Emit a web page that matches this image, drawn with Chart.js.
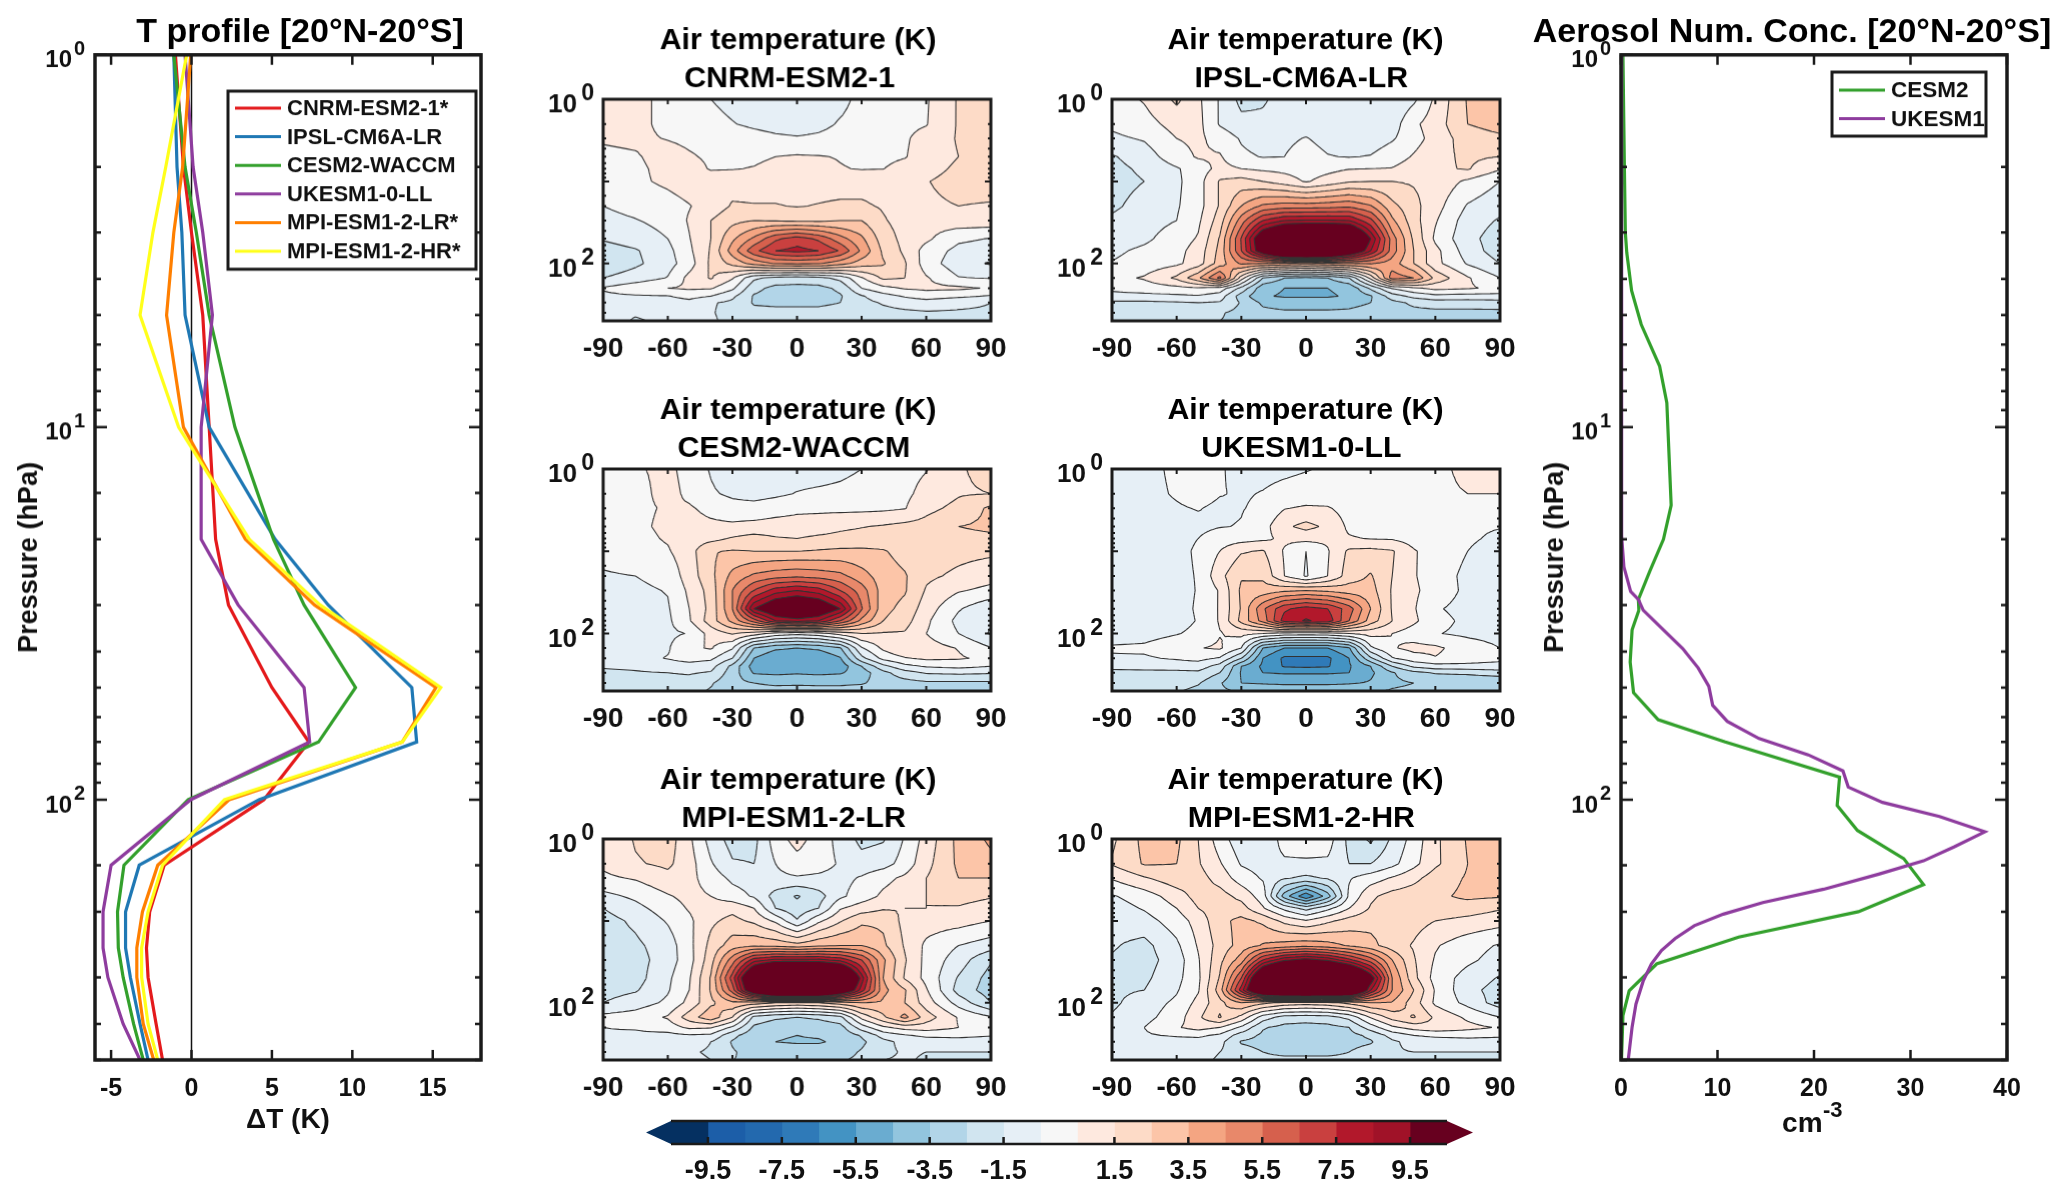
<!DOCTYPE html>
<html>
<head>
<meta charset="utf-8">
<script src="https://cdn.jsdelivr.net/npm/chart.js@4"></script>
<style>
  html, body { margin: 0; padding: 0; background: #fff; width: 2067px; height: 1195px; overflow: hidden; }
  canvas { position: absolute; }
</style>
</head>
<body>
<script>
// T profile, 20N-20S mean
const T_PLEV = [1, 2, 3, 5, 10, 20, 30, 50, 70, 100, 150, 200, 250, 300, 400, 500];
const T_CNRM = [-1.0, -0.5, 0.0, 0.7, 1.1, 1.5, 2.3, 5.0, 7.3, 4.5, -1.7, -2.6, -2.8, -2.7, -2.2, -1.8];
const T_IPSL = [-1.1, -0.9, -0.6, -0.4, 1.1, 5.2, 8.5, 13.7, 14.0, 4.2, -3.25, -4.1, -4.1, -3.8, -3.2, -2.7];
const T_CESM = [-1.1, -0.4, 0.3, 1.1, 2.7, 5.1, 7.0, 10.2, 7.9, -0.2, -4.2, -4.6, -4.55, -4.25, -3.6, -3.0];
const T_UKESM = [-0.4, 0.1, 0.7, 1.3, 0.6, 0.6, 2.9, 7.0, 7.35, -0.05, -5.0, -5.5, -5.5, -5.2, -4.25, -3.2];
const T_MPILR = [-0.05, -0.55, -1.1, -1.55, -0.5, 3.35, 7.65, 15.2, 13.1, 2.35, -2.1, -3.05, -3.4, -3.4, -3.0, -2.35];
const T_MPIHR = [-0.3, -1.6, -2.4, -3.2, -0.8, 3.6, 8.0, 15.5, 13.1, 2.05, -1.8, -2.7, -3.1, -3.1, -2.7, -2.1];
const T_NAMES = ['CNRM-ESM2-1*', 'IPSL-CM6A-LR', 'CESM2-WACCM', 'UKESM1-0-LL', 'MPI-ESM1-2-LR*', 'MPI-ESM1-2-HR*'];
const T_COLORS = ['#e41a1c', '#1f78b4', '#33a02c', '#8e3c9e', '#ff7f00', '#ffff1a'];

// aerosol number concentration
const PLEV_CESM2 = [1, 2, 3, 3.4, 4.3, 5.3, 6.85, 8.6, 16.2, 20, 24.3, 29, 31, 35, 42.7, 51.6, 61, 70, 87, 103.6, 121, 144, 169, 200, 234, 276, 326, 380, 500];
const NUM_CESM2 = [0.2, 0.35, 0.45, 0.6, 1.1, 2.1, 4.0, 4.75, 5.2, 4.4, 3.0, 1.8, 1.85, 1.15, 0.95, 1.3, 3.85, 10.8, 22.65, 22.4, 24.5, 29.3, 31.35, 24.6, 12.2, 3.7, 0.85, 0.2, 0.05];
const PLEV_UKESM1 = [1, 10, 19.6, 23.7, 27.6, 29, 31, 35, 39.3, 44.3, 49.6, 55.8, 61.6, 68.5, 75.8, 83.7, 92.5, 101.7, 111, 122, 134, 146, 158.5, 174, 189, 203, 218, 236, 254, 276, 307, 354, 408, 500];
const NUM_UKESM1 = [0.03, 0.03, 0.1, 0.3, 1.0, 1.8, 2.3, 4.4, 6.4, 8.0, 9.1, 9.5, 11, 14.3, 19.4, 23, 23.55, 27.1, 33, 37.7, 34.5, 31.35, 26.7, 21, 14.7, 10.6, 7.6, 5.6, 4.2, 3.15, 2.3, 1.55, 1.15, 0.75];

// zonal mean grids, one row per pressure level, one value per latitude
const LATS = [-90, -75, -60, -50, -40, -30, -20, -10, 0, 10, 20, 30, 40, 50, 60, 75, 90];
const PLEV = [1, 2, 3, 5, 7, 10, 20, 30, 50, 70, 100, 150, 200, 250, 300, 400, 500];
const F_CNRM = [
  [1.0,0.8,0.2,0,-0.5,-0.8,-1.0,-1.1,-1.1,-1.1,-0.8,-0.2,0,0.2,0.4,1.6,1.9],
  [1.0,0.8,0.2,0,-0.2,-0.45,-0.7,-0.9,-1.0,-0.8,-0.4,-0.1,0.1,0.3,0.45,1.6,1.9],
  [0.6,0.7,0.45,0.3,0.2,0.1,-0.1,-0.3,-0.4,-0.3,-0.1,0.1,0.2,0.4,0.8,1.6,1.9],
  [0.3,0.4,0.9,0.6,0.35,0.3,0.3,0.5,0.6,0.55,0.45,0.3,0.3,0.45,0.9,1.5,2.0],
  [0.2,0.3,0.8,0.9,0.42,0.45,0.55,0.8,0.9,0.8,0.55,0.45,0.48,0.8,1.1,1.7,1.9],
  [0.2,0.3,0.7,1.0,1.0,1.1,1.1,1.1,1.1,1.1,1.1,1.1,1.1,1.2,1.45,1.9,2.0],
  [-0.5,-0.2,0.1,0.45,0.9,1.6,1.55,1.55,1.45,1.55,1.65,1.65,1.4,1.1,1.3,1.5,1.4],
  [-0.8,-0.55,-0.2,0.6,1.5,2.2,2.5,2.4,2.3,2.3,2.5,2.5,1.6,1.1,0.9,1.1,1.1],
  [-1.4,-1.0,-0.5,0.45,1.5,3.3,4.7,6.3,7,6.3,4.9,3.7,2.0,1.2,0.7,-0.3,-0.55],
  [-2.0,-1.6,-0.8,0.3,1.6,4.0,6.2,7.5,7.8,7.5,6.4,4.3,2.3,1.3,0.1,-0.8,-1.0],
  [-2.3,-1.7,-0.9,0.05,1.7,2.8,3.9,4.6,4.7,4.6,3.9,3.0,2.6,1.6,0,-1.1,-1.6],
  [-1.5,-1.0,-0.45,0.8,1.6,0.6,-1.3,-1.8,-2,-1.8,-1.2,0.4,1.7,1.5,0.6,-0.45,-0.55],
  [-0.4,0.1,0.5,0.65,0.6,-0.3,-2.2,-2.8,-2.8,-2.8,-2.3,-0.5,0.2,0.6,0.7,0.7,0.4],
  [-0.7,-0.6,-0.55,-0.2,-0.5,-1.3,-2.6,-2.9,-2.9,-2.9,-2.6,-1.6,-0.9,-0.4,0,-0.3,-0.6],
  [-1.0,-0.9,-0.9,-0.8,-1.4,-1.7,-2.6,-2.7,-2.7,-2.7,-2.5,-1.8,-1.4,-1.1,-1.0,-1.3,-1.5],
  [-1.2,-1.4,-1.2,-1.0,-1.4,-1.9,-2.2,-2.2,-2.2,-2.2,-2.1,-1.9,-1.8,-1.7,-1.6,-1.6,-1.6],
  [-1.0,-1.6,-1.3,-1.0,-1.3,-1.9,-1.9,-1.9,-1.9,-1.9,-1.8,-1.8,-1.7,-1.7,-1.6,-1.6,-1.6]
];
const F_IPSL = [
  [0.0,0.6,1.7,0.7,-0.6,-1.8,-1.6,-1.2,-1.0,-1.1,-1.2,-1.3,-1.4,-0.7,0.7,2.6,2.9],
  [-0.3,0.1,0.9,0.8,-0.6,-1.2,-1.3,-1.1,-0.9,-0.9,-1.0,-1.1,-1.0,0.3,1.0,2.5,2.9],
  [-0.7,-0.4,0.5,0.7,0.1,-0.6,-1.0,-0.7,-0.45,-0.8,-1.1,-1.0,-0.6,0.1,0.9,2.0,2.3],
  [-1.6,-1.0,0.1,0.6,0.6,-0.3,-0.55,-0.5,-0.1,-0.45,-0.55,-0.45,0.0,0.6,1.2,1.7,1.5],
  [-1.8,-1.3,-0.6,0.0,0.8,0.5,0.3,0.2,0.0,0.2,0.45,0.5,0.55,1.0,1.3,1.6,0.6],
  [-1.9,-1.5,-0.7,0.1,1.6,1.9,1.5,1.0,0.4,0.9,1.4,1.5,1.5,1.4,1.2,0.3,-0.5],
  [-1.7,-1.1,-0.6,0.1,1.6,3.5,4.7,5.0,5.0,5.1,5.3,4.6,2.8,1.8,0.9,-0.6,-1.2],
  [-1.3,-0.9,-0.5,0.3,2.0,5.0,7.5,8.5,8.6,8.6,8.5,6.8,3.7,1.9,0.6,-1.0,-1.6],
  [-1.0,-0.7,0.0,0.6,2.6,6.6,11.5,14,15,15,14,9.5,5,2.3,0.3,-1.2,-2.0],
  [-0.7,-0.3,0.2,0.9,2.8,6.5,11,15,16,15,12,8.5,5,2.5,0.8,-1.0,-2.0],
  [-0.45,-0.1,0.3,1,3,4.7,4.5,4.3,4,4.3,4.5,4.6,4,2.5,0.8,-0.6,-1.5],
  [0.2,0.6,1.7,3.3,5.8,1,-2.5,-3.5,-3.7,-3.5,-2.5,0.8,5.0,4.5,2.2,0.6,-0.5],
  [-0.3,0.0,0.2,0.4,0.1,-1.8,-4.2,-4.5,-4.5,-4.5,-4.3,-2.3,-0.4,0.3,0.8,0.6,0.3],
  [-0.8,-0.8,-0.7,-0.6,-1.0,-3,-4.4,-4.6,-4.6,-4.6,-4.4,-3.6,-2.0,-1.2,-0.8,-0.9,-0.9],
  [-1.7,-1.7,-1.6,-1.5,-1.6,-2.6,-3.7,-4,-4,-4,-3.8,-3.5,-2.8,-2.3,-2.0,-2.0,-1.9],
  [-2.0,-2.0,-1.9,-2.0,-2.4,-2.8,-3.2,-3.3,-3.3,-3.3,-3.3,-3.1,-2.9,-2.8,-2.8,-2.8,-2.8],
  [-2.0,-2.0,-2.0,-2.2,-2.5,-2.7,-2.7,-2.8,-2.8,-2.8,-2.8,-2.7,-2.7,-2.7,-2.7,-2.7,-2.7]
];
const F_CESM = [
  [0.1,0.4,0.7,0.2,-0.6,-1.4,-1.3,-1.0,-1.0,-1.0,-0.8,-0.5,0,0.2,0.45,1.4,1.8],
  [0.1,0.2,0.8,0.3,-0.35,-0.7,-0.9,-0.7,-0.45,-0.3,-0.2,0,0.1,0.3,0.8,1.4,1.5],
  [0.15,0.3,0.6,0.6,0.25,-0.1,-0.1,0.1,0.3,0.3,0.25,0.25,0.3,0.45,1.2,1.8,2.7],
  [0.1,0.3,0.7,0.8,0.7,0.7,0.8,0.9,0.9,1.0,1.3,1.45,1.6,1.8,1.9,2.5,2.7],
  [0.0,0.2,0.6,1.0,1.2,1.6,1.9,1.6,1.5,1.7,1.8,1.9,1.9,1.9,2.0,2.2,2.3],
  [-0.2,0.1,0.4,1.1,2.4,2.6,2.5,2.5,2.5,2.6,2.7,2.7,2.6,2.1,2.0,1.8,1.7],
  [-0.6,-0.5,-0.2,1.0,2.2,3.8,4.7,5.1,5.3,5.1,4.8,3.9,3.0,2.6,1.7,1.3,0.9],
  [-0.8,-0.7,-0.45,0.7,1.9,4.5,6.5,8,8.5,8,6.5,5,3.0,2.6,1.4,0.6,0.2],
  [-1,-0.9,-0.6,0.5,1.8,4.5,9.5,11.3,12,11.3,9.5,5.6,2.8,2.2,1.0,-0.4,-1.3],
  [-1,-0.9,-0.7,0.4,2.0,3.8,6,8.5,9,8.5,6.5,4.2,2.5,1.9,0.7,-0.8,-1.4],
  [-0.9,-0.8,-0.7,-0.45,0.9,1.6,1,0.1,-0.2,0.1,0.9,1.5,1.4,1.4,0.5,-0.5,-1.6],
  [-1.0,-0.8,-0.6,0.3,0.6,-0.4,-3.5,-4.3,-4.5,-4.3,-3.6,-0.6,0.7,1.5,0.9,0.45,-0.45],
  [-1.0,-0.8,-0.45,-0.1,-0.3,-1.5,-4.5,-5.4,-5.5,-5.4,-4.6,-1.8,-0.2,0.4,0.7,0.6,0.3],
  [-1.4,-1.3,-1.0,-0.9,-1.1,-2.8,-5.0,-5.5,-5.5,-5.5,-5.1,-3.5,-1.8,-0.8,-0.4,-0.2,-0.5],
  [-1.7,-1.6,-1.5,-1.4,-1.6,-3,-4.6,-4.7,-4.6,-4.7,-4.6,-4,-2.8,-1.9,-1.4,-1.3,-1.4],
  [-2.0,-2.0,-1.9,-1.9,-2.4,-3.2,-3.5,-3.7,-3.7,-3.7,-3.7,-3.6,-3.1,-2.9,-2.7,-2.7,-2.7],
  [-2.1,-2.1,-2.1,-2.2,-2.6,-2.9,-3.1,-3.1,-3.0,-3.1,-3.1,-3.0,-2.9,-2.9,-2.8,-2.8,-2.8]
];
const F_UKESM = [
  [-1.0,-0.8,-0.3,-0.2,-0.4,-0.8,-0.8,-0.7,-0.55,-0.4,-0.2,-0.1,0,0.1,0.3,0.7,0.8],
  [-1,-0.8,-0.4,-0.1,-0.45,-0.6,-0.45,-0.2,-0.1,-0.1,0.0,0.05,0.1,0.2,0.35,0.5,0.5],
  [-0.9,-0.8,-0.6,-0.45,-0.7,-0.55,-0.3,0.45,0.65,0.6,0.1,0.0,0,0,0,0,-0.1],
  [-0.9,-1.2,-0.8,-0.75,-0.55,-0.45,0.1,1.3,1.8,1.3,0.3,-0.05,-0.05,0,-0.1,-0.35,-0.45],
  [-0.9,-0.9,-0.7,-0.5,0.0,0.1,0.3,0.7,0.8,0.7,0.6,0.45,0.4,0.1,-0.2,-0.35,-0.7],
  [-0.9,-0.9,-0.7,-0.4,0.5,1.4,1.6,0.4,-0.5,0.4,1.7,1.8,1.6,0.6,0,-0.5,-1.0],
  [-1,-1,-0.7,-0.45,1.2,2.4,2.3,0.5,-0.6,0.5,2.0,2.6,1.5,0.6,-0.1,-0.7,-1.0],
  [-1,-1,-0.8,-0.45,0.6,2.7,2.9,3.3,3.5,3.3,3.0,2.9,1.4,0.7,0,-0.7,-1.0],
  [-1,-1,-0.8,-0.4,0.6,2.6,5.3,7.3,8,7.5,6,3.5,1.4,0.6,-0.4,-0.8,-0.95],
  [-1,-1,-0.8,-0.45,0.6,2.8,4.9,8,8.6,8.2,5.5,3,1.5,0.7,-0.2,-0.7,-0.9],
  [-0.9,-0.8,-0.55,-0.3,0.45,0.8,0.5,0.1,0.0,0.1,0.5,0.8,0.5,0.0,-0.45,-0.7,-0.85],
  [-0.4,-0.35,0.0,0.45,0.65,-0.5,-4.5,-5.5,-5.5,-5.5,-4.6,-0.7,0.4,0.8,0.7,0.0,-0.5],
  [-0.6,-0.6,-0.4,-0.2,-0.6,-2.5,-5.5,-6.7,-6.7,-6.7,-5.5,-2.7,-0.6,0.1,0.45,0.0,-0.3],
  [-1.2,-1.1,-1,-1,-1.9,-4.5,-5.7,-6.6,-6.7,-6.6,-5.6,-4.5,-2.5,-1.3,-0.9,-0.8,-0.8],
  [-1.8,-1.8,-1.8,-1.7,-2.5,-4.6,-5.5,-5.6,-5.6,-5.6,-5.5,-4.7,-3.6,-2.8,-2.4,-2.3,-2.0],
  [-2.0,-2.0,-2.0,-2.4,-3.4,-4.5,-4.6,-4.7,-4.7,-4.7,-4.6,-4.4,-3.7,-3.5,-3.4,-3.4,-3.4],
  [-2.2,-2.2,-2.4,-2.8,-3.3,-3.6,-3.7,-3.7,-3.7,-3.7,-3.7,-3.6,-3.4,-3.3,-3.3,-3.2,-3.2]
];
const F_MPILR = [
  [0.6,1.6,2.0,0.7,-0.9,-1.9,-1.8,0.0,0.9,0.0,-0.8,-1.8,-1.6,-0.4,0.9,2.8,3.7],
  [0.7,1.4,1.7,0.9,-0.4,-1.4,-1.5,-0.5,0.1,-0.1,-0.6,-1.1,-0.9,-0.1,1.2,2.7,3.2],
  [0.3,0.6,1.2,0.8,0.0,-0.7,-0.9,-0.7,-0.6,-0.7,-0.8,-0.4,0.2,0.7,1.5,2.5,2.5],
  [-0.8,-0.3,0.4,0.8,0.5,-0.1,-0.6,-1.9,-2.6,-1.9,-0.7,0.0,0.7,1.1,1.5,1.9,1.6],
  [-1.5,-0.8,0.0,0.6,1.0,1.2,0.5,-1.5,-2.2,-1.5,0.4,1.0,1.4,1.5,1.5,1.4,1.0],
  [-1.9,-1.3,-0.4,0.3,1.3,1.8,1.3,0.3,-1.4,0.3,1.4,2.3,2.3,1.2,1.0,0.9,0.5],
  [-2.0,-1.7,-1,0.2,1.8,3.0,3.3,3.2,2.9,3.3,3.5,3.5,2.7,1.4,0.3,-0.5,-1.0],
  [-2.0,-1.9,-1.0,0.1,2.1,5.0,8,8.8,8.8,8.8,8.2,6.5,3.7,1.6,0.2,-1.0,-2.4],
  [-2,-1.9,-0.7,0.4,2.6,7,13,17,18,17,15,9,3.5,1.4,0.2,-1.6,-2.9],
  [-1.9,-1.6,-0.6,0.5,2.6,6,12,16,16.5,16,12.5,8,3.8,2.6,0.6,-1.9,-3],
  [-1.5,-1,-0.3,0.8,2.3,3.3,3,2.5,2.3,2.5,3,3.5,3.3,2.5,1,-0.9,-2.5],
  [-0.2,-0.0,0.6,2.0,3.2,1.5,-1.8,-2.3,-2.5,-2.3,-1.8,0.8,2.3,3.8,2.0,0.4,-0.4],
  [-0.5,-0.4,0.0,0.7,0.6,-0.7,-2.7,-3.2,-3.3,-3.2,-2.9,-1.0,0.3,0.9,1.0,0.5,0.2],
  [-0.6,-0.7,-0.8,-0.6,-0.7,-2.2,-3.2,-3.4,-3.5,-3.4,-3.2,-2.4,-1.1,-0.6,-0.3,-0.2,-0.4],
  [-0.9,-0.9,-1,-1.1,-1.5,-2.6,-3.3,-3.5,-3.6,-3.6,-3.3,-2.7,-1.8,-1.2,-1.0,-1.0,-1.2],
  [-1.2,-1.4,-1.3,-1.4,-1.6,-2.4,-2.9,-3,-3,-3,-2.9,-2.4,-1.7,-1.4,-1.5,-1.5,-1.5],
  [-1.2,-1.5,-1.3,-1.3,-1.5,-2.5,-2.6,-2.6,-2.6,-2.6,-2.6,-2.3,-1.5,-1.4,-1.6,-1.6,-1.6]
];
const F_MPIHR = [
  [1.3,2.8,2.7,1.5,0.0,-1.2,-1.5,0.0,0.2,0,-1.8,-2.7,-1.3,-0.1,1.3,2.6,3.0],
  [1.6,2.6,2.5,1.6,0.6,-0.6,-0.9,-0.7,-0.7,-0.7,-1.5,-1.5,-0.8,0.2,1.3,2.5,2.9],
  [0.6,1.4,2.1,1.9,1.1,0,-0.6,-1.4,-1.7,-1.4,-0.6,0,0.6,1.2,2,2.6,2.8],
  [-0.6,0.0,1.0,1.9,1.9,1.2,0.0,-4,-6.3,-4,-0.3,1.3,1.9,2.1,2.3,2.7,2.6],
  [-1,-0.4,0.5,1.5,2.0,1.9,0.6,-0.8,-1.9,-0.8,0.5,1.6,2.2,2.2,2.2,2.0,1.6],
  [-1.1,-0.9,0,0.9,2.2,2.8,2.3,1.2,0.6,1.3,1.9,2.2,2.2,1.9,1.5,1.2,0.9],
  [-1.4,-1.8,-0.7,0.6,1.9,2.9,3.6,3.9,4.2,3.9,3.4,2.8,2.0,1.4,0.6,-0.1,-0.6],
  [-1.6,-1.9,-1.0,0.4,2.2,4,7.5,9.3,10,9.3,7.8,6,3.5,1.6,0.4,-0.3,-0.9],
  [-1.8,-1.7,-0.8,0.3,2.6,6.5,13,17,18,17.5,15,10.5,4.5,1.8,0.1,-0.9,-1.6],
  [-1.7,-1.5,-0.6,0.4,3.0,8,14,16,16.5,16,15,8.5,4.5,2.5,0.4,-1.2,-1.9],
  [-1.7,-1.0,-0.3,0.8,2.2,3.5,2.8,2.2,2,2.2,2.8,3.5,3.4,2.0,0.3,-0.8,-2],
  [-1.4,-0.8,0.0,1.3,2.6,1.2,-1,-1.9,-2,-1.9,-1.2,0.6,1.9,2.6,1.3,0.3,-0.5],
  [-0.7,-0.5,0.4,0.9,0.5,-0.7,-2.4,-2.8,-2.9,-2.8,-2.5,-1.0,0.3,0.9,1.2,0.8,0.4],
  [-0.7,-0.6,-0.4,-0.3,-0.7,-2,-2.7,-3,-3,-3,-2.8,-2.3,-1.1,-0.5,-0.3,-0.2,-0.3],
  [-0.9,-0.9,-0.9,-0.9,-1.2,-2.6,-2.8,-3,-3,-3,-2.8,-2.6,-1.7,-1.1,-1,-0.9,-1.0],
  [-1.1,-1.3,-1.2,-1.2,-1.5,-2.1,-2.5,-2.7,-2.7,-2.7,-2.5,-2.1,-1.6,-1.5,-1.5,-1.5,-1.5],
  [-1.2,-1.5,-1.3,-1.3,-1.6,-2.1,-2.3,-2.3,-2.3,-2.3,-2.3,-2.1,-1.7,-1.6,-1.6,-1.6,-1.6]
];

// colour scale
const LEVELS = [-9.5, -8.5, -7.5, -6.5, -5.5, -4.5, -3.5, -2.5, -1.5, -0.5, 0.5, 1.5, 2.5, 3.5, 4.5, 5.5, 6.5, 7.5, 8.5, 9.5];
const BAND_COLORS = ['#053061', '#1c5ea8', '#2369ae', '#2f7ab8', '#4393c3', '#6aacd0', '#92c5de', '#b2d5e8', '#d1e5f0', '#e6eff6', '#f7f7f7',
  '#fee9df', '#fddbc7', '#fcc5a8', '#f4a582', '#e8886a', '#d6604d', '#c9403f', '#b2182b', '#a01228', '#67001f'];
const BAR_TICKS = [-9.5, -7.5, -5.5, -3.5, -1.5, 1.5, 3.5, 5.5, 7.5, 9.5];
const LAT_TICKS = [-90, -60, -30, 0, 30, 60, 90];
const DT_TICKS = [-5, 0, 5, 10, 15];
const NUM_TICKS = [0, 10, 20, 30, 40];
const DECADES_PROFILE = [1, 10, 100];
const DECADES_FIELD = [1, 100];

const FONT = "'Liberation Sans', Arial, sans-serif";
const INK = '#1a1a1a';
Chart.defaults.animation = false;
Chart.defaults.font.family = FONT;
Chart.defaults.font.weight = 'bold';
Chart.defaults.color = '#111';

function addCanvas(left, top, width, height) {
  const c = document.createElement('canvas');
  c.width = width;
  c.height = height;
  c.style.left = left + 'px';
  c.style.top = top + 'px';
  c.style.width = width + 'px';
  c.style.height = height + 'px';
  document.body.appendChild(c);
  return c;
}

// title centred on a page position rather than on the chart box
const titleAt = {
  id: 'titleAt',
  afterLayout(chart, args, opts) {
    const c = opts.center - chart.canvas.offsetLeft;
    chart.titleBlock.left = c - 400;
    chart.titleBlock.right = c + 400;
  }
};

// "10" with a raised exponent at each decade of the pressure axis
const decadeLabels = {
  id: 'decadeLabels',
  afterDraw(chart, args, opts) {
    const ctx = chart.ctx, sy = chart.scales.y, left = chart.chartArea.left;
    ctx.save();
    ctx.fillStyle = '#111';
    ctx.textAlign = 'right';
    ctx.textBaseline = 'middle';
    opts.values.forEach(v => {
      const y = sy.getPixelForValue(v);
      ctx.font = 'bold ' + opts.size + 'px ' + FONT;
      ctx.fillText('10', left - opts.baseGap, y + 6);
      ctx.font = 'bold ' + opts.expSize + 'px ' + FONT;
      ctx.fillText(String(Math.log10(v)), left - opts.expGap, y - 5);
    });
    ctx.restore();
  }
};

// box and inward ticks, the way the original axes look
const boxAxes = {
  id: 'boxAxes',
  afterDatasetsDraw(chart, args, opts) {
    const ctx = chart.ctx, a = chart.chartArea;
    ctx.save();
    ctx.strokeStyle = INK;
    ctx.lineWidth = opts.tickWidth;
    ctx.beginPath();
    chart.scales.y.ticks.forEach(t => {
      const y = chart.scales.y.getPixelForValue(t.value);
      const len = Number.isInteger(Math.log10(t.value)) ? opts.major : opts.minor;
      ctx.moveTo(a.left, y); ctx.lineTo(a.left + len, y);
      ctx.moveTo(a.right, y); ctx.lineTo(a.right - len, y);
    });
    chart.scales.x.ticks.forEach(t => {
      const x = chart.scales.x.getPixelForValue(t.value);
      ctx.moveTo(x, a.top); ctx.lineTo(x, a.top + opts.xtick);
      ctx.moveTo(x, a.bottom); ctx.lineTo(x, a.bottom - opts.xtick);
    });
    ctx.stroke();
    ctx.lineWidth = opts.box;
    ctx.strokeRect(a.left, a.top, a.right - a.left, a.bottom - a.top);
    ctx.restore();
  }
};

// legend box placed inside the plot, labels come from the datasets
const boxLegend = {
  id: 'boxLegend',
  afterDraw(chart, args, opts) {
    const ctx = chart.ctx;
    const x0 = opts.x - chart.canvas.offsetLeft, y0 = opts.y - chart.canvas.offsetTop;
    ctx.save();
    ctx.fillStyle = '#fff';
    ctx.fillRect(x0, y0, opts.w, opts.h);
    ctx.strokeStyle = INK;
    ctx.lineWidth = 3;
    ctx.strokeRect(x0, y0, opts.w, opts.h);
    ctx.font = 'bold ' + opts.size + 'px ' + FONT;
    ctx.textBaseline = 'middle';
    opts.rows.forEach((idx, i) => {
      const ds = chart.data.datasets[idx];
      const y = y0 + opts.first + i * opts.step;
      ctx.strokeStyle = ds.borderColor;
      ctx.lineWidth = 3;
      ctx.beginPath();
      ctx.moveTo(x0 + 7, y); ctx.lineTo(x0 + 7 + opts.sample, y);
      ctx.stroke();
      ctx.fillStyle = '#111';
      ctx.fillText(ds.label, x0 + 7 + opts.sample + 6, y + 1);
    });
    if (opts.unitExp) {
      ctx.font = 'bold 22px ' + FONT;
      ctx.textAlign = 'left';
      ctx.fillStyle = '#111';
      ctx.fillText(opts.unitExp, chart.scales.x.getPixelForValue(20) + 9, chart.chartArea.bottom + 51);
    }
    ctx.restore();
  }
};

// filled contours + contour lines from the grid kept in dataset 0
function clipAbove(poly, level) {
  const out = [];
  for (let i = 0; i < poly.length; i++) {
    const a = poly[i], b = poly[(i + 1) % poly.length];
    const ain = a[2] >= level, bin = b[2] >= level;
    if (ain) out.push(a);
    if (ain !== bin) {
      const t = (level - a[2]) / (b[2] - a[2]);
      out.push([a[0] + t * (b[0] - a[0]), a[1] + t * (b[1] - a[1]), level]);
    }
  }
  return out;
}

const contourField = {
  id: 'contourField',
  beforeDatasetsDraw(chart) {
    const pts = chart.data.datasets[0].data;
    const sx = chart.scales.x, sy = chart.scales.y, a = chart.chartArea, ctx = chart.ctx;
    const nc = LATS.length, nr = PLEV.length, sub = 4;
    const tris = [];
    for (let r = 0; r < nr - 1; r++) {
      for (let c = 0; c < nc - 1; c++) {
        const v00 = pts[r * nc + c], v01 = pts[r * nc + c + 1], v10 = pts[(r + 1) * nc + c], v11 = pts[(r + 1) * nc + c + 1];
        const xl = sx.getPixelForValue(v00.x), xr = sx.getPixelForValue(v01.x);
        const yt = sy.getPixelForValue(v00.y), yb = sy.getPixelForValue(v10.y);
        const node = (i, j) => {
          const u = i / sub, w = j / sub;
          return [xl + u * (xr - xl), yt + w * (yb - yt),
            (1 - u) * (1 - w) * v00.v + u * (1 - w) * v01.v + (1 - u) * w * v10.v + u * w * v11.v];
        };
        for (let j = 0; j < sub; j++) {
          for (let i = 0; i < sub; i++) {
            const p = node(i, j), q = node(i + 1, j), s = node(i + 1, j + 1), t = node(i, j + 1);
            tris.push([p, q, s], [p, s, t]);
          }
        }
      }
    }
    ctx.save();
    ctx.beginPath();
    ctx.rect(a.left, a.top, a.right - a.left, a.bottom - a.top);
    ctx.clip();
    ctx.fillStyle = BAND_COLORS[0];
    ctx.fillRect(a.left, a.top, a.right - a.left, a.bottom - a.top);
    LEVELS.forEach((lev, k) => {
      ctx.fillStyle = BAND_COLORS[k + 1];
      ctx.beginPath();
      tris.forEach(tri => {
        const poly = clipAbove(tri, lev);
        if (poly.length < 3) return;
        ctx.moveTo(poly[0][0], poly[0][1]);
        for (let i = 1; i < poly.length; i++) ctx.lineTo(poly[i][0], poly[i][1]);
        ctx.closePath();
      });
      ctx.fill();
    });
    ctx.strokeStyle = '#333';
    ctx.lineWidth = 1.1;
    ctx.beginPath();
    LEVELS.forEach(lev => {
      tris.forEach(tri => {
        const hit = [];
        for (let i = 0; i < 3; i++) {
          const p = tri[i], q = tri[(i + 1) % 3];
          if ((p[2] >= lev) !== (q[2] >= lev)) {
            const t = (lev - p[2]) / (q[2] - p[2]);
            hit.push([p[0] + t * (q[0] - p[0]), p[1] + t * (q[1] - p[1])]);
          }
        }
        if (hit.length === 2) {
          ctx.moveTo(hit[0][0], hit[0][1]);
          ctx.lineTo(hit[1][0], hit[1][1]);
        }
      });
    });
    ctx.stroke();
    ctx.restore();
  }
};

function pressureAxis(width, title, titlePad) {
  return {
    type: 'logarithmic', reverse: true, min: 1, max: 500,
    grid: { display: false, drawTicks: false }, border: { display: false },
    ticks: { display: false },
    title: title ? { display: true, text: title, font: { size: 27 }, padding: { top: titlePad, bottom: 0 } } : { display: false },
    afterFit(s) { s.width = width; }
  };
}

function valueAxis(min, max, values, height, size, padding, title, titlePad) {
  return {
    type: 'linear', min: min, max: max,
    grid: { display: false, drawTicks: false }, border: { display: false },
    afterBuildTicks(s) { s.ticks = values.map(v => ({ value: v })); },
    ticks: { autoSkip: false, maxRotation: 0, padding: padding, font: { size: size } },
    title: title ? { display: true, text: title, font: { size: 28 }, padding: { top: 0, bottom: titlePad } } : { display: false },
    afterFit(s) { s.height = height; }
  };
}

// profile panels
function profileChart(p) {
  const titleH = 34 * 1.2 + 2;
  const top = p.T - titleH;
  const cv = addCanvas(p.CL, top, p.CW, p.B + p.xH - top);
  new Chart(cv, {
    type: 'scatter',
    data: { datasets: p.datasets },
    options: {
      responsive: false,
      layout: { padding: { right: p.CL + p.CW - p.R } },
      plugins: {
        legend: { display: false }, tooltip: { enabled: false },
        title: { display: true, text: p.title, font: { size: 34, lineHeight: 1.2 }, padding: { top: 0, bottom: 2 }, color: '#000' },
        titleAt: { center: p.titleX },
        decadeLabels: { values: DECADES_PROFILE, size: 24, expSize: 20, baseGap: 23, expGap: 10 },
        boxAxes: { major: 12, minor: 6, xtick: 10, box: 3.5, tickWidth: 2.5 },
        boxLegend: p.legend
      },
      scales: {
        x: valueAxis(p.xmin, p.xmax, p.xticks, p.xH, 25, 14, p.xtitle, p.xtitlePad),
        y: pressureAxis(p.L - p.CL, 'Pressure (hPa)', p.ytitlePad)
      }
    },
    plugins: [titleAt, decadeLabels, boxAxes, boxLegend]
  });
}

function xy(xs, ys) { return xs.map((x, i) => ({ x: x, y: ys[i] })); }

const tSeries = [T_CNRM, T_IPSL, T_CESM, T_UKESM, T_MPILR, T_MPIHR];
const tDatasets = tSeries.map((s, i) => ({
  label: T_NAMES[i], data: xy(s, T_PLEV), showLine: true, borderColor: T_COLORS[i], borderWidth: 3.2,
  pointRadius: 0, borderJoinStyle: 'miter', order: tSeries.length - i
}));
tDatasets.push({ label: '', data: [{ x: 0, y: 1 }, { x: 0, y: 500 }], showLine: true, borderColor: '#111', borderWidth: 1.5, pointRadius: 0, order: 99 });

profileChart({
  title: 'T profile [20\u00b0N-20\u00b0S]', titleX: 300, CL: 0, CW: 600, L: 95, R: 481, T: 55, B: 1060, xH: 90,
  xmin: -6, xmax: 18, xticks: DT_TICKS, xtitle: '\u0394T (K)', xtitlePad: 13, ytitlePad: 13,
  datasets: tDatasets,
  legend: { x: 228, y: 91, w: 248, h: 178, first: 17, step: 28.6, size: 22, sample: 46, rows: [0, 1, 2, 3, 4, 5] }
});

profileChart({
  title: 'Aerosol Num. Conc. [20\u00b0N-20\u00b0S]', titleX: 1792, CL: 1517, CW: 550, L: 1621, R: 2007, T: 55, B: 1060, xH: 90,
  xmin: 0, xmax: 40, xticks: NUM_TICKS, xtitle: 'cm   ', xtitlePad: 9, ytitlePad: 22,
  datasets: [
    { label: 'CESM2', data: xy(NUM_CESM2, PLEV_CESM2), showLine: true, borderColor: T_COLORS[2], borderWidth: 3.2, pointRadius: 0, order: 2 },
    { label: 'UKESM1', data: xy(NUM_UKESM1, PLEV_UKESM1), showLine: true, borderColor: T_COLORS[3], borderWidth: 3.2, pointRadius: 0, order: 1 }
  ],
  legend: { x: 1832, y: 72, w: 154, h: 64, first: 18, step: 28.6, size: 22.5, sample: 46, rows: [0, 1], unitExp: '-3' }
});

// contour panels
function fieldChart(name, field, L, R, T, B, titleX) {
  const titleH = 2 * 38 + 1;
  const top = T - titleH;
  const pad = 80, xH = 60;
  const pts = [];
  PLEV.forEach((p, r) => LATS.forEach((lat, c) => pts.push({ x: lat, y: p, v: field[r][c] })));
  const cv = addCanvas(L - pad, top, (R - L) + 2 * pad, B + xH - top);
  new Chart(cv, {
    type: 'scatter',
    data: { datasets: [{ label: name, data: pts, pointRadius: 0, showLine: false }] },
    options: {
      responsive: false,
      layout: { padding: { right: pad } },
      plugins: {
        legend: { display: false }, tooltip: { enabled: false },
        title: { display: true, text: ['Air temperature (K)', name], font: { size: 30.3, lineHeight: 38 / 30.3 }, padding: { top: 0, bottom: 1 }, color: '#000' },
        titleAt: { center: titleX },
        decadeLabels: { values: DECADES_FIELD, size: 26, expSize: 23, baseGap: 26, expGap: 9 },
        boxAxes: { major: 6, minor: 3, xtick: 5, box: 3, tickWidth: 2 }
      },
      scales: {
        x: valueAxis(-90, 90, LAT_TICKS, xH, 28, 11),
        y: pressureAxis(pad)
      }
    },
    plugins: [titleAt, decadeLabels, contourField, boxAxes]
  });
}

const COL_A = [603.3, 991], COL_B = [1111.7, 1500];
// second title lines sit a little left of the first, as in the source figure
fieldChart('CNRM-ESM2-1  ', F_CNRM, COL_A[0], COL_A[1], 99, 320.7, 797.5);
fieldChart('IPSL-CM6A-LR ', F_IPSL, COL_B[0], COL_B[1], 99, 320.7, 1305.5);
fieldChart('CESM2-WACCM ', F_CESM, COL_A[0], COL_A[1], 468.7, 690.7, 797.5);
fieldChart('UKESM1-0-LL ', F_UKESM, COL_B[0], COL_B[1], 468.7, 690.7, 1305.5);
fieldChart('MPI-ESM1-2-LR ', F_MPILR, COL_A[0], COL_A[1], 838.7, 1060, 797.5);
fieldChart('MPI-ESM1-2-HR ', F_MPIHR, COL_B[0], COL_B[1], 838.7, 1060, 1305.5);

// colour bar, one floating bar per band
const barEdges = [-10.5].concat(LEVELS, [10.5]);
const barEnds = {
  id: 'barEnds',
  afterDatasetsDraw(chart) {
    const ctx = chart.ctx, a = chart.chartArea, sx = chart.scales.x;
    ctx.save();
    ctx.fillStyle = BAND_COLORS[0];
    ctx.beginPath();
    ctx.moveTo(a.left, a.top); ctx.lineTo(a.left - 25, (a.top + a.bottom) / 2); ctx.lineTo(a.left, a.bottom);
    ctx.fill();
    ctx.fillStyle = BAND_COLORS[BAND_COLORS.length - 1];
    ctx.beginPath();
    ctx.moveTo(a.right, a.top); ctx.lineTo(a.right + 26, (a.top + a.bottom) / 2); ctx.lineTo(a.right, a.bottom);
    ctx.fill();
    ctx.strokeStyle = INK;
    ctx.lineWidth = 2.5;
    ctx.beginPath();
    ctx.moveTo(a.left, a.top); ctx.lineTo(a.right, a.top);
    ctx.moveTo(a.left, a.bottom); ctx.lineTo(a.right, a.bottom);
    BAR_TICKS.forEach(v => {
      const x = sx.getPixelForValue(v);
      ctx.moveTo(x, a.bottom); ctx.lineTo(x, a.bottom - 7);
    });
    ctx.stroke();
    ctx.restore();
  }
};
new Chart(addCanvas(620, 1118, 880, 77), {
  type: 'bar',
  data: {
    labels: ['K'],
    datasets: BAND_COLORS.map((col, i) => ({
      label: String(barEdges[i]), data: [[barEdges[i], barEdges[i + 1]]], backgroundColor: col,
      barPercentage: 1, categoryPercentage: 1, grouped: false
    }))
  },
  options: {
    indexAxis: 'y',
    responsive: false,
    layout: { padding: { left: 51, right: 53, top: 3 } },
    plugins: { legend: { display: false }, tooltip: { enabled: false } },
    scales: {
      x: {
        type: 'linear', min: -10.5, max: 10.5,
        grid: { display: false, drawTicks: false }, border: { display: false },
        afterBuildTicks(s) { s.ticks = BAR_TICKS.map(v => ({ value: v })); },
        ticks: { autoSkip: false, maxRotation: 0, padding: 11, font: { size: 27 }, callback: v => v.toFixed(1) },
        afterFit(s) { s.height = 51; }
      },
      y: { display: false }
    }
  },
  plugins: [barEnds]
});
</script>
</body>
</html>
